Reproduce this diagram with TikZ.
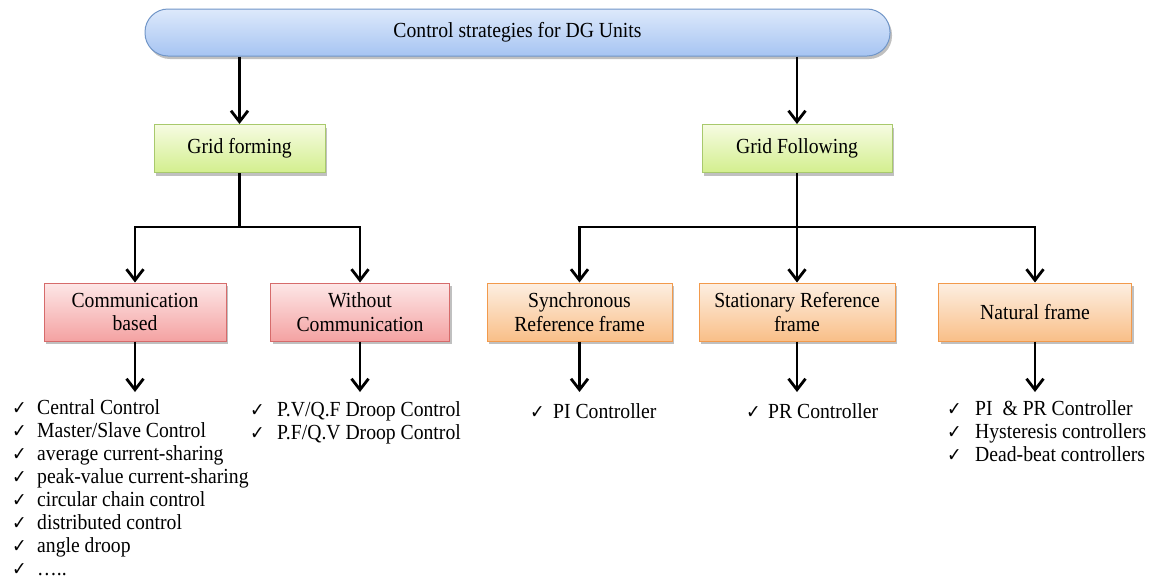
\documentclass[tikz,border=0pt]{standalone}
\usepackage{fontspec}
\setmainfont{Liberation Serif}[FakeStretch=0.915]
\newfontfamily\symf{DejaVu Sans}[FakeStretch=0.915]
\usetikzlibrary{shadows,arrows.meta}
\definecolor{bluetop}{HTML}{DDE9FB}
\definecolor{bluebot}{HTML}{A6C4F2}
\definecolor{blueborder}{HTML}{7196C8}
\definecolor{greentop}{HTML}{F6FBE2}
\definecolor{greenbot}{HTML}{D3EF8E}
\definecolor{greenborder}{HTML}{A8C96C}
\definecolor{pinktop}{HTML}{FDE7E7}
\definecolor{pinkbot}{HTML}{F4A2A2}
\definecolor{pinkborder}{HTML}{D66B6B}
\definecolor{orangetop}{HTML}{FDEFE2}
\definecolor{orangebot}{HTML}{F9BF88}
\definecolor{orangeborder}{HTML}{F29A4C}
\newcommand\ck{{\symf\fontsize{19}{19}\selectfont ✓}}
\tikzset{
  box/.style={draw, line width=1pt, align=center, inner sep=0pt,
    font=\fontsize{21.5}{23.5}\selectfont,
    drop shadow={shadow xshift=2pt, shadow yshift=-3pt, opacity=0.35, fill=black!70}},
  topbox/.style={box, rounded corners=23pt, draw=blueborder, top color=bluetop, bottom color=bluebot,
    minimum width=745pt, minimum height=47pt},
  greenbox/.style={box, draw=greenborder, top color=greentop, bottom color=greenbot, minimum height=48pt},
  pinkbox/.style={box, draw=pinkborder, top color=pinktop, bottom color=pinkbot, minimum height=58pt},
  orangebox/.style={box, draw=orangeborder, top color=orangetop, bottom color=orangebot, minimum height=58pt},
  link/.style={line width=2.8pt, black},
  arr/.style={link, -{Straight Barb[length=11pt,width=17pt]}},
  item/.style={anchor=base west, inner sep=0pt, font=\fontsize{21.5}{23.5}\selectfont}
}
\begin{document}
\begin{tikzpicture}[x=1pt,y=-1pt]
\fill[white] (0,0) rectangle (1152,579);
\useasboundingbox (0,0) rectangle (1152,579);

\node[topbox] (top) at (517.5,32.5) {Control strategies for DG Units};
\node[greenbox, minimum width=171pt] (gf) at (239.5,148.5) {Grid forming};
\node[greenbox, minimum width=190pt] (gfl) at (797,148.5) {Grid Following};

\node[pinkbox, minimum width=182pt] (comm) at (135,312) {Communication\\based};
\node[pinkbox, minimum width=179pt] (woc) at (360,312) {Without\\Communication};
\node[orangebox, minimum width=185pt] (sync) at (579.5,312) {Synchronous\\Reference frame};
\node[orangebox, minimum width=196pt] (stat) at (797,312) {Stationary Reference\\frame};
\node[orangebox, minimum width=193pt] (nat) at (1035,312) {Natural frame};

% top level arrows
\draw[arr] (gf.north |- top.south) -- (gf.north);
\draw[arr] (gfl.north |- top.south) -- (gfl.north);

% grid forming branches
\coordinate (j1) at (gf.south |- 0,227);
\draw[link] (gf.south) -- (j1);
\draw[arr] (j1) -| (comm.north);
\draw[arr] (j1) -| (woc.north);

% grid following branches
\coordinate (j2) at (gfl.south |- 0,227);
\draw[link] (gfl.south) -- (j2);
\draw[arr] (j2) -| (sync.north);
\draw[arr] (j2) -| (nat.north);
\draw[arr] (j2) -- (stat.north);

% bottom arrows
\foreach \b in {comm,woc,sync,stat,nat}{
  \coordinate (\b-end) at (\b.south |- 0,392);
  \draw[arr] (\b.south) -- (\b-end);
}

% lists
\foreach \t [count=\i] in {Central Control, Master/Slave Control, average current-sharing,
  peak-value current-sharing, circular chain control, distributed control, angle droop, …..}{
  \node[item] (la\i) at (12,{414.5+23*(\i-1)}) {\makebox[25pt][l]{\ck}\t};
}
\foreach \t [count=\i] in {P.V/Q.F Droop Control, P.F/Q.V Droop Control}{
  \node[item] (lb\i) at (250,{416+23.2*(\i-1)}) {\makebox[27pt][l]{\ck}\t};
}
\node[item] (lc1) at (530,418) {\makebox[23pt][l]{\ck}PI Controller};
\node[item] (ld1) at (746,418) {\makebox[22pt][l]{\ck}PR Controller};
\foreach \t [count=\i] in {PI \ \& PR Controller, Hysteresis controllers, Dead-beat controllers}{
  \node[item] (le\i) at (947,{415+23.2*(\i-1)}) {\makebox[28pt][l]{\ck}\t};
}
\end{tikzpicture}
\end{document}
